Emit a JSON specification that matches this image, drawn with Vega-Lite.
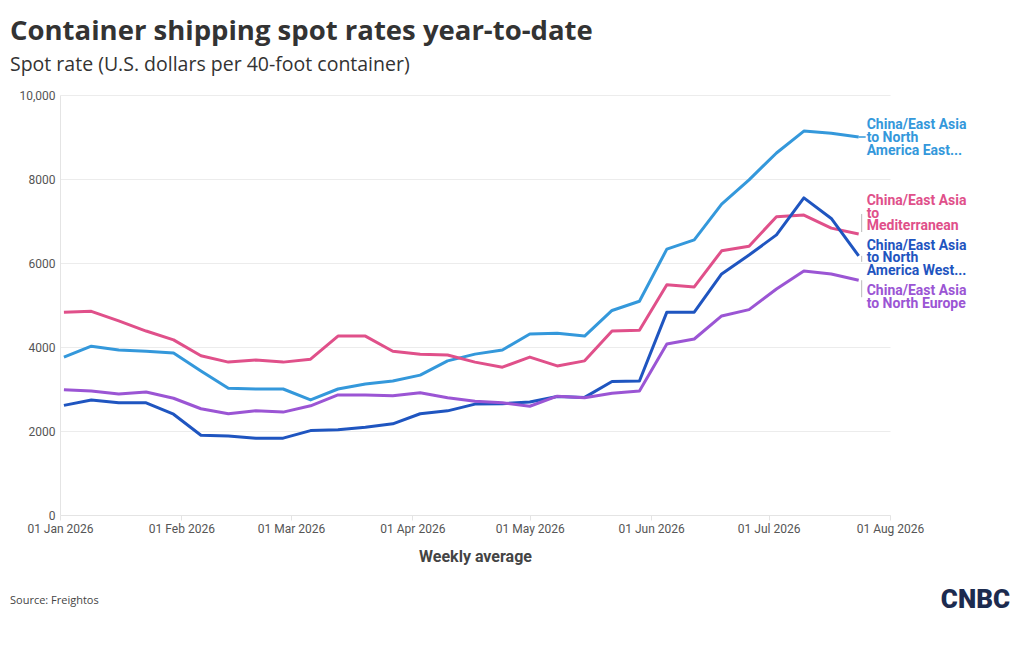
{
  "$schema": "https://vega.github.io/schema/vega-lite/v6.json",
  "width": 830,
  "height": 420,
  "autosize": {"type": "none"},
  "padding": {"left": 60, "top": 95, "right": 130, "bottom": 135},
  "background": "white",
  "title": {
    "text": "Container shipping spot rates year-to-date",
    "subtitle": "Spot rate (U.S. dollars per 40-foot container)",
    "anchor": "start",
    "frame": "group",
    "dx": -50,
    "offset": 15,
    "font": "Open Sans",
    "fontSize": 27.5,
    "fontWeight": "bold",
    "color": "#333333",
    "subtitleFont": "Open Sans",
    "subtitleFontSize": 19.5,
    "subtitleColor": "#333333",
    "subtitlePadding": 10
  },
  "datasets": {
    "weekly": [
      {"date": "2026-01-02", "east": 3760, "med": 4830, "west": 2610, "europe": 2980},
      {"date": "2026-01-09", "east": 4020, "med": 4850, "west": 2740, "europe": 2950},
      {"date": "2026-01-16", "east": 3930, "med": 4620, "west": 2670, "europe": 2880},
      {"date": "2026-01-23", "east": 3900, "med": 4380, "west": 2670, "europe": 2930},
      {"date": "2026-01-30", "east": 3860, "med": 4170, "west": 2400, "europe": 2780},
      {"date": "2026-02-06", "east": 3430, "med": 3790, "west": 1900, "europe": 2530},
      {"date": "2026-02-13", "east": 3020, "med": 3640, "west": 1880, "europe": 2410},
      {"date": "2026-02-20", "east": 3000, "med": 3690, "west": 1830, "europe": 2480},
      {"date": "2026-02-27", "east": 3000, "med": 3640, "west": 1830, "europe": 2450},
      {"date": "2026-03-06", "east": 2740, "med": 3710, "west": 2010, "europe": 2600},
      {"date": "2026-03-13", "east": 3000, "med": 4260, "west": 2030, "europe": 2860},
      {"date": "2026-03-20", "east": 3120, "med": 4260, "west": 2090, "europe": 2860},
      {"date": "2026-03-27", "east": 3190, "med": 3900, "west": 2170, "europe": 2840},
      {"date": "2026-04-03", "east": 3330, "med": 3830, "west": 2410, "europe": 2910},
      {"date": "2026-04-10", "east": 3670, "med": 3810, "west": 2480, "europe": 2790},
      {"date": "2026-04-17", "east": 3830, "med": 3640, "west": 2640, "europe": 2710},
      {"date": "2026-04-24", "east": 3930, "med": 3520, "west": 2650, "europe": 2670},
      {"date": "2026-05-01", "east": 4310, "med": 3760, "west": 2690, "europe": 2590},
      {"date": "2026-05-08", "east": 4330, "med": 3550, "west": 2820, "europe": 2830},
      {"date": "2026-05-15", "east": 4260, "med": 3670, "west": 2800, "europe": 2790},
      {"date": "2026-05-22", "east": 4870, "med": 4380, "west": 3180, "europe": 2900},
      {"date": "2026-05-29", "east": 5090, "med": 4400, "west": 3190, "europe": 2950},
      {"date": "2026-06-05", "east": 6330, "med": 5480, "west": 4830, "europe": 4070},
      {"date": "2026-06-12", "east": 6550, "med": 5430, "west": 4830, "europe": 4190},
      {"date": "2026-06-19", "east": 7400, "med": 6290, "west": 5740, "europe": 4740},
      {"date": "2026-06-26", "east": 7980, "med": 6400, "west": 6190, "europe": 4890},
      {"date": "2026-07-03", "east": 8620, "med": 7100, "west": 6670, "europe": 5380},
      {"date": "2026-07-10", "east": 9140, "med": 7140, "west": 7550, "europe": 5810},
      {"date": "2026-07-17", "east": 9090, "med": 6830, "west": 7060, "europe": 5740},
      {"date": "2026-07-24", "east": 9000, "med": 6690, "west": 6170, "europe": 5590}
    ]
  },
  "data": {"name": "weekly"},
  "transform": [
    {"fold": ["east", "med", "west", "europe"], "as": ["route", "rate"]}
  ],
  "layer": [
    {
      "mark": {"type": "line", "strokeWidth": 3, "strokeJoin": "round"},
      "encoding": {
        "x": {
          "field": "date",
          "type": "temporal",
          "scale": {
            "type": "utc",
            "domain": [
              {"year": 2026, "month": 1, "date": 1, "utc": true},
              {"year": 2026, "month": 8, "date": 1, "utc": true}
            ]
          },
          "axis": {
            "title": "Weekly average",
            "format": "%d %b %Y",
            "values": [
              {"year": 2026, "month": 1, "date": 1, "utc": true},
              {"year": 2026, "month": 2, "date": 1, "utc": true},
              {"year": 2026, "month": 3, "date": 1, "utc": true},
              {"year": 2026, "month": 4, "date": 1, "utc": true},
              {"year": 2026, "month": 5, "date": 1, "utc": true},
              {"year": 2026, "month": 6, "date": 1, "utc": true},
              {"year": 2026, "month": 7, "date": 1, "utc": true},
              {"year": 2026, "month": 8, "date": 1, "utc": true}
            ],
            "grid": false,
            "domain": true,
            "domainColor": "#e4e4e4",
            "tickColor": "#e4e4e4",
            "tickSize": 5,
            "labelFont": "Roboto",
            "labelFontSize": 12,
            "labelColor": "#555555",
            "labelPadding": 3,
            "labelOverlap": false,
            "labelFlush": false,
            "titleFont": "Roboto",
            "titleFontSize": 16,
            "titleFontWeight": "bold",
            "titleColor": "#444444",
            "titlePadding": 14
          }
        },
        "y": {
          "field": "rate",
          "type": "quantitative",
          "scale": {"domain": [0, 10000]},
          "axis": {
            "title": null,
            "values": [0, 2000, 4000, 6000, 8000, 10000],
            "labelExpr": "datum.value >= 10000 ? format(datum.value, ',') : format(datum.value, 'd')",
            "ticks": false,
            "domain": true,
            "domainColor": "#e4e4e4",
            "grid": true,
            "gridColor": "#ececec",
            "labelFont": "Roboto",
            "labelFontSize": 12,
            "labelColor": "#555555",
            "labelPadding": 5
          }
        },
        "color": {
          "field": "route",
          "type": "nominal",
          "scale": {
            "domain": ["east", "med", "west", "europe"],
            "range": ["#3498db", "#e0508a", "#1f55c0", "#9b55d4"]
          },
          "legend": null
        }
      }
    },
    {
      "transform": [{"filter": "datum.route === 'east' && +toDate(datum.date) === +utc(2026, 6, 24)"}],
      "mark": {"type": "rule", "color": "#3498db", "strokeWidth": 1.5, "x2Offset": 7},
      "encoding": {
        "x": {"field": "date", "type": "temporal"},
        "x2": {"field": "date"},
        "y": {"field": "rate", "type": "quantitative"}
      }
    },
    {
      "transform": [{"filter": "datum.route === 'med' && +toDate(datum.date) === +utc(2026, 6, 24)"}],
      "mark": {"type": "rule", "color": "#bbbbbb", "strokeWidth": 1, "xOffset": 3, "yOffset": -2, "y2Offset": -20},
      "encoding": {
        "x": {"field": "date", "type": "temporal"},
        "y": {"field": "rate", "type": "quantitative"},
        "y2": {"field": "rate"}
      }
    },
    {
      "transform": [{"filter": "datum.route === 'west' && +toDate(datum.date) === +utc(2026, 6, 24)"}],
      "mark": {"type": "rule", "color": "#bbbbbb", "strokeWidth": 1, "xOffset": 3, "y2Offset": 6},
      "encoding": {
        "x": {"field": "date", "type": "temporal"},
        "y": {"field": "rate", "type": "quantitative"},
        "y2": {"field": "rate"}
      }
    },
    {
      "transform": [{"filter": "datum.route === 'europe' && +toDate(datum.date) === +utc(2026, 6, 24)"}],
      "mark": {"type": "rule", "color": "#bbbbbb", "strokeWidth": 1, "xOffset": 3, "y2Offset": 17},
      "encoding": {
        "x": {"field": "date", "type": "temporal"},
        "y": {"field": "rate", "type": "quantitative"},
        "y2": {"field": "rate"}
      }
    },
    {
      "transform": [{"filter": "datum.route === 'east' && +toDate(datum.date) === +utc(2026, 6, 24)"}],
      "mark": {
        "type": "text", "align": "left", "baseline": "middle", "dx": 8, "dy": -12,
        "font": "Roboto", "fontSize": 14, "fontWeight": "bold", "lineHeight": 13,
        "color": "#3498db",
        "text": ["China/East Asia", "to North", "America East..."]
      },
      "encoding": {
        "x": {"field": "date", "type": "temporal"},
        "y": {"field": "rate", "type": "quantitative"}
      }
    },
    {
      "transform": [{"filter": "datum.route === 'med' && +toDate(datum.date) === +utc(2026, 6, 24)"}],
      "mark": {
        "type": "text", "align": "left", "baseline": "middle", "dx": 8, "dy": -33,
        "font": "Roboto", "fontSize": 14, "fontWeight": "bold", "lineHeight": 12.5,
        "color": "#e0508a",
        "text": ["China/East Asia", "to", "Mediterranean"]
      },
      "encoding": {
        "x": {"field": "date", "type": "temporal"},
        "y": {"field": "rate", "type": "quantitative"}
      }
    },
    {
      "transform": [{"filter": "datum.route === 'west' && +toDate(datum.date) === +utc(2026, 6, 24)"}],
      "mark": {
        "type": "text", "align": "left", "baseline": "middle", "dx": 8, "dy": -10,
        "font": "Roboto", "fontSize": 14, "fontWeight": "bold", "lineHeight": 12.5,
        "color": "#1f55c0",
        "text": ["China/East Asia", "to North", "America West..."]
      },
      "encoding": {
        "x": {"field": "date", "type": "temporal"},
        "y": {"field": "rate", "type": "quantitative"}
      }
    },
    {
      "transform": [{"filter": "datum.route === 'europe' && +toDate(datum.date) === +utc(2026, 6, 24)"}],
      "mark": {
        "type": "text", "align": "left", "baseline": "middle", "dx": 8, "dy": 11,
        "font": "Roboto", "fontSize": 14, "fontWeight": "bold", "lineHeight": 13,
        "color": "#9b55d4",
        "text": ["China/East Asia", "to North Europe"]
      },
      "encoding": {
        "x": {"field": "date", "type": "temporal"},
        "y": {"field": "rate", "type": "quantitative"}
      }
    },
    {
      "data": {"values": [{}]},
      "mark": {
        "type": "text", "text": "Source: Freightos", "align": "left", "baseline": "middle",
        "font": "Open Sans", "fontSize": 11, "color": "#444444"
      },
      "encoding": {"x": {"value": -50}, "y": {"value": 506}}
    },
    {
      "data": {"values": [{}]},
      "mark": {
        "type": "text", "text": "CNBC", "align": "right", "baseline": "middle",
        "font": "Roboto", "fontSize": 26, "fontWeight": 900, "color": "#1c2b4f"
      },
      "encoding": {"x": {"value": 950}, "y": {"value": 505}}
    }
  ],
  "config": {
    "view": {"stroke": null}
  }
}
